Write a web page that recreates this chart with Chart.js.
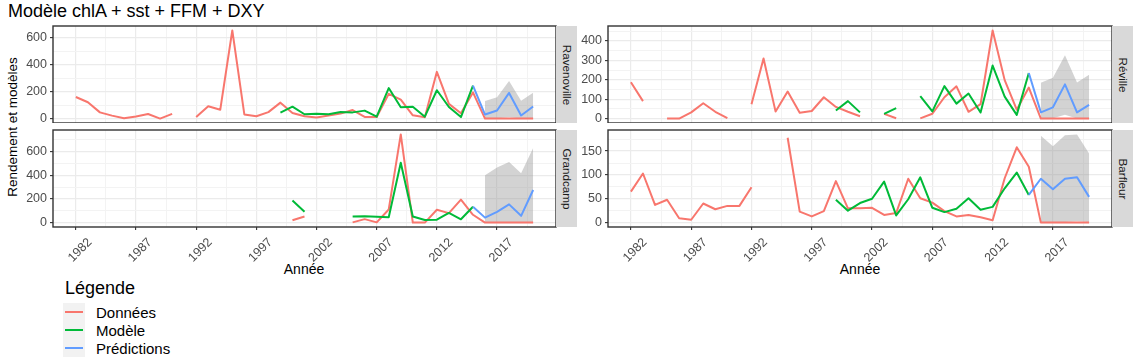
<!DOCTYPE html>
<html lang="fr">
<head>
<meta charset="utf-8">
<title>Modèle chlA + sst + FFM + DXY</title>
<script src="https://cdn.jsdelivr.net/npm/chart.js@4.4.1/dist/chart.umd.min.js"></script>
<style>
  body { margin: 0; background: #fff; }
  #page { position: relative; width: 1140px; height: 361px; overflow: hidden;
          font-family: "Liberation Sans", Arial, sans-serif; color: #000; }
  #page canvas { position: absolute; }
  .txt { position: absolute; white-space: nowrap; }
  .bande { position: absolute; background: #D9D9D9; }
  .bande span { position: absolute; left: 50%; top: 50%; white-space: nowrap;
                transform: translate(-50%, -50%) rotate(90deg);
                font-size: 11.7px; color: #1A1A1A; }
  #titre { left: 8px; top: 0px; font-size: 18px; line-height: 22px; }
  #ylab { left: 12px; top: 127px; font-size: 13.5px; transform: translate(-50%, -50%) rotate(-90deg); }
  .xlab { top: 269px; font-size: 14px; transform: translate(-50%, -50%); }
  #leg-titre { left: 65px; top: 288px; font-size: 18px; transform: translateY(-50%); }
  .cle { position: absolute; left: 63px; width: 22px; height: 18px; background: #F2F2F2; }
  .cle i { position: absolute; left: 2px; right: 2px; top: 8px; height: 2px; }
  .leg-txt { left: 96px; font-size: 15px; transform: translateY(-50%); }
</style>
</head>
<body>
<div id="page">
  <div class="txt" id="titre">Modèle chlA + sst + FFM + DXY</div>
  <div class="txt" id="ylab">Rendement et modèles</div>
  <div class="txt xlab" style="left:304px">Année</div>
  <div class="txt xlab" style="left:860px">Année</div>
  <div class="txt" id="leg-titre">Légende</div>
</div>
<script>
// Années
const annees = [1982, 1983, 1984, 1985, 1986, 1987, 1988, 1989, 1990, 1991,
  1992, 1993, 1994, 1995, 1996, 1997, 1998, 1999, 2000, 2001,
  2002, 2003, 2004, 2005, 2006, 2007, 2008, 2009, 2010, 2011,
  2012, 2013, 2014, 2015, 2016, 2017, 2018, 2019, 2020];
const anneesModele = [1999, 2000, 2001, 2002, 2003, 2004, 2005, 2006, 2007,
  2008, 2009, 2010, 2011, 2012, 2013, 2014, 2015];
const anneesPred = [2015, 2016, 2017, 2018, 2019, 2020];
const anneesIC = [2016, 2017, 2018, 2019, 2020];

// Ravenoville
const donneesRavenoville = [160, 121, 46, 22, 3, 16, 34, 0, 35, null,
  11, 92, 66, 653, 31, 17, 48, 118, 42, 17,
  8, 23, 37, 63, 12, 12, 183, 140, 24, 10,
  346, 109, 40, 194, 0, 0, 0, 0, 0];
const modeleRavenoville = [44, 88, 32, 35, 32, 48, 46, 59, 14, 226, 84, 88, 14, 210, 86, 11, 244];
const predRavenoville = [244, 30, 60, 190, 23, 90];
const icBasRavenoville = [0, 2, 10, 0, 3];
const icHautRavenoville = [130, 158, 279, 132, 192];

// Réville
const donneesReville = [187, 90, null, 0, 0, 32, 79, 35, 2, null,
  74, 309, 36, 139, 30, 39, 110, 60, 35, 12,
  null, 24, 2, null, 1, 25, 110, 166, 35, 74,
  454, 198, 46, 160, 0, 0, 0, 0, 0];
const modeleReville = [42, 90, 32, null, 24, 54, null, 116, 37, 167, 77, 129, 31, 273, 113, 19, 235];
const predReville = [235, 32, 58, 176, 32, 71];
const icBasReville = [0, 2, 20, 0, 3];
const icHautReville = [184, 210, 326, 186, 226];

// Grandcamp
const donneesGrandcamp = [null, null, null, null, null, null, null, null, null, null,
  null, null, null, null, null, null, null, null, 20, 52,
  null, null, null, 2, 29, 2, 111, 745, 0, 0,
  108, 80, 194, 66, 0, 0, 0, 0, 0];
const modeleGrandcamp = [null, 186, 92, null, null, null, 52, 54, 49, 45, 505, 52, 22, 25, 82, 28, 134];
const predGrandcamp = [134, 42, 90, 154, 57, 275];
const icBasGrandcamp = [0, 2, 3, 1, 4];
const icHautGrandcamp = [400, 466, 511, 417, 631];

// Barfleur
const donneesBarfleur = [65, 103, 37, 48, 9, 6, 40, 28, 35, 35,
  74, null, null, 178, 23, 13, 24, 87, 30, 30,
  31, 16, 20, 92, 51, 42, 24, 13, 16, 11,
  5, 93, 158, 117, 0, 0, 0, 0, 0];
const modeleBarfleur = [48, 25, 41, 50, 86, 15, 49, 95, 31, 22, 29, 51, 27, 33, 72, 105, 58];
const predBarfleur = [58, 92, 70, 92, 95, 54];
const icBasBarfleur = [0, 0, 1, 3, 1];
const icHautBarfleur = [182, 160, 183, 185, 145];

// Graduations
const xMajeurs = [1982, 1987, 1992, 1997, 2002, 2007, 2012, 2017];
const xMineurs = [1984.5, 1989.5, 1994.5, 1999.5, 2004.5, 2009.5, 2014.5, 2019.5];
const yMajeursRavenoville = [0, 200, 400, 600];
const yMineursRavenoville = [100, 300, 500];
const yMajeursReville = [0, 100, 200, 300, 400];
const yMineursReville = [50, 150, 250, 350, 450];
const yMajeursGrandcamp = [0, 200, 400, 600];
const yMineursGrandcamp = [100, 300, 500, 700];
const yMajeursBarfleur = [0, 50, 100, 150];
const yMineursBarfleur = [25, 75, 125, 175];

const series = ['Données', 'Modèle', 'Prédictions'];
const couleurs = ['#F8766D', '#00BA38', '#619CFF'];

// mise en page des panneaux (zone de tracé)
const COLS = [{ left: 53, width: 503 }, { left: 608, width: 504 }];
const ROWS = [{ top: 26, height: 97 }, { top: 130, height: 97 }];
const Y_W = 45, PAD = 3, X_H = 40;

const cadre = {
  id: 'cadre',
  afterDatasetsDraw(chart) {
    const a = chart.chartArea, ctx = chart.ctx;
    ctx.save();
    ctx.strokeStyle = '#333333';
    ctx.lineWidth = 1.4;
    ctx.strokeRect(a.left, a.top, a.right - a.left, a.bottom - a.top);
    ctx.restore();
  }
};

function points(xs, ys) {
  return xs.map((x, i) => ({ x: x, y: ys[i] }));
}

function ligne(xs, ys, coul) {
  return {
    data: points(xs, ys), borderColor: coul, borderWidth: 2,
    pointRadius: 0, fill: false, tension: 0,
    borderJoinStyle: 'round', spanGaps: false
  };
}

function creerPanneau(p) {
  const col = COLS[p.col], row = ROWS[p.row], bas = p.row === 1;
  const w = Y_W + col.width + PAD, h = PAD + row.height + (bas ? X_H : 0);
  const cv = document.createElement('canvas');
  cv.width = w; cv.height = h;
  cv.style.left = (col.left - Y_W) + 'px';
  cv.style.top = (row.top - PAD) + 'px';
  cv.style.width = w + 'px'; cv.style.height = h + 'px';
  document.getElementById('page').appendChild(cv);

  const xTous = xMajeurs.concat(xMineurs).sort((a, b) => a - b);
  const yTous = p.yMajeurs.concat(p.yMineurs).sort((a, b) => a - b);
  const estMajX = v => xMajeurs.includes(v);
  const estMajY = v => p.yMajeurs.includes(v);

  new Chart(cv, {
    type: 'line',
    data: {
      datasets: [
        ligne(anneesPred, p.pred, couleurs[2]),
        ligne(anneesModele, p.modele, couleurs[1]),
        ligne(annees, p.donnees, couleurs[0]),
        { data: points(anneesIC, p.icBas), borderWidth: 0, pointRadius: 0, fill: false },
        { data: points(anneesIC, p.icHaut), borderWidth: 0, pointRadius: 0,
          fill: '-1', backgroundColor: 'rgba(150,150,150,0.42)' }
      ]
    },
    options: {
      responsive: false,
      animation: false,
      events: [],
      layout: { padding: { top: PAD, right: PAD, left: 0, bottom: 0 } },
      plugins: { legend: { display: false }, tooltip: { enabled: false } },
      scales: {
        x: {
          type: 'linear', min: 1980.1, max: 2021.9, bounds: 'data',
          afterBuildTicks: s => { s.ticks = xTous.map(v => ({ value: v })); },
          afterFit: s => { s.height = bas ? X_H : 0; s.paddingLeft = 0; s.paddingRight = 0; },
          border: { display: false },
          grid: {
            color: c => estMajX(c.tick.value) ? '#EBEBEB' : '#F3F3F3',
            lineWidth: c => estMajX(c.tick.value) ? 1.2 : 1,
            drawTicks: bas, tickLength: 3, tickWidth: 1.1,
            tickColor: c => estMajX(c.tick.value) ? '#333333' : 'rgba(0,0,0,0)'
          },
          ticks: {
            display: bas, autoSkip: false, minRotation: 45, maxRotation: 45,
            padding: 5, labelOffset: 14,
            color: '#4D4D4D', font: { family: 'Liberation Sans', size: 12.5 },
            callback: v => estMajX(v) ? String(v) : ''
          }
        },
        y: {
          type: 'linear', min: p.yMin, max: p.yMax, bounds: 'data',
          afterBuildTicks: s => { s.ticks = yTous.map(v => ({ value: v })); },
          afterFit: s => { s.width = Y_W; s.paddingTop = 0; s.paddingBottom = 0; },
          border: { display: false },
          grid: {
            color: c => estMajY(c.tick.value) ? '#EBEBEB' : '#F3F3F3',
            lineWidth: c => estMajY(c.tick.value) ? 1.2 : 1,
            drawTicks: true, tickLength: 3, tickWidth: 1.1,
            tickColor: c => estMajY(c.tick.value) ? '#333333' : 'rgba(0,0,0,0)'
          },
          ticks: {
            autoSkip: false, padding: 3,
            color: '#4D4D4D', font: { family: 'Liberation Sans', size: 12.5 },
            callback: v => estMajY(v) ? String(v) : ''
          }
        }
      }
    },
    plugins: [cadre]
  });

  // bandeau du site
  const b = document.createElement('div');
  b.className = 'bande';
  b.style.left = (col.left + col.width) + 'px';
  b.style.top = row.top + 'px';
  b.style.width = '21px';
  b.style.height = row.height + 'px';
  const t = document.createElement('span');
  t.textContent = p.nom;
  b.appendChild(t);
  document.getElementById('page').appendChild(b);
}

creerPanneau({ nom: 'Ravenoville', col: 0, row: 0, donnees: donneesRavenoville,
  modele: modeleRavenoville, pred: predRavenoville, icBas: icBasRavenoville, icHaut: icHautRavenoville,
  yMin: -32.65, yMax: 685.65, yMajeurs: yMajeursRavenoville, yMineurs: yMineursRavenoville });
creerPanneau({ nom: 'Réville', col: 1, row: 0, donnees: donneesReville,
  modele: modeleReville, pred: predReville, icBas: icBasReville, icHaut: icHautReville,
  yMin: -22.7, yMax: 476.7, yMajeurs: yMajeursReville, yMineurs: yMineursReville });
creerPanneau({ nom: 'Grandcamp', col: 0, row: 1, donnees: donneesGrandcamp,
  modele: modeleGrandcamp, pred: predGrandcamp, icBas: icBasGrandcamp, icHaut: icHautGrandcamp,
  yMin: -37.25, yMax: 782.25, yMajeurs: yMajeursGrandcamp, yMineurs: yMineursGrandcamp });
creerPanneau({ nom: 'Barfleur', col: 1, row: 1, donnees: donneesBarfleur,
  modele: modeleBarfleur, pred: predBarfleur, icBas: icBasBarfleur, icHaut: icHautBarfleur,
  yMin: -9.25, yMax: 194.25, yMajeurs: yMajeursBarfleur, yMineurs: yMineursBarfleur });

// légende
const page = document.getElementById('page');
series.forEach((nom, i) => {
  const yc = 311.7 + i * 18.3;
  const cle = document.createElement('div');
  cle.className = 'cle';
  cle.style.top = (yc - 9) + 'px';
  const trait = document.createElement('i');
  trait.style.background = couleurs[i];
  cle.appendChild(trait);
  page.appendChild(cle);
  const lab = document.createElement('div');
  lab.className = 'txt leg-txt';
  lab.style.top = yc + 'px';
  lab.textContent = nom;
  page.appendChild(lab);
});
</script>
</body>
</html>
